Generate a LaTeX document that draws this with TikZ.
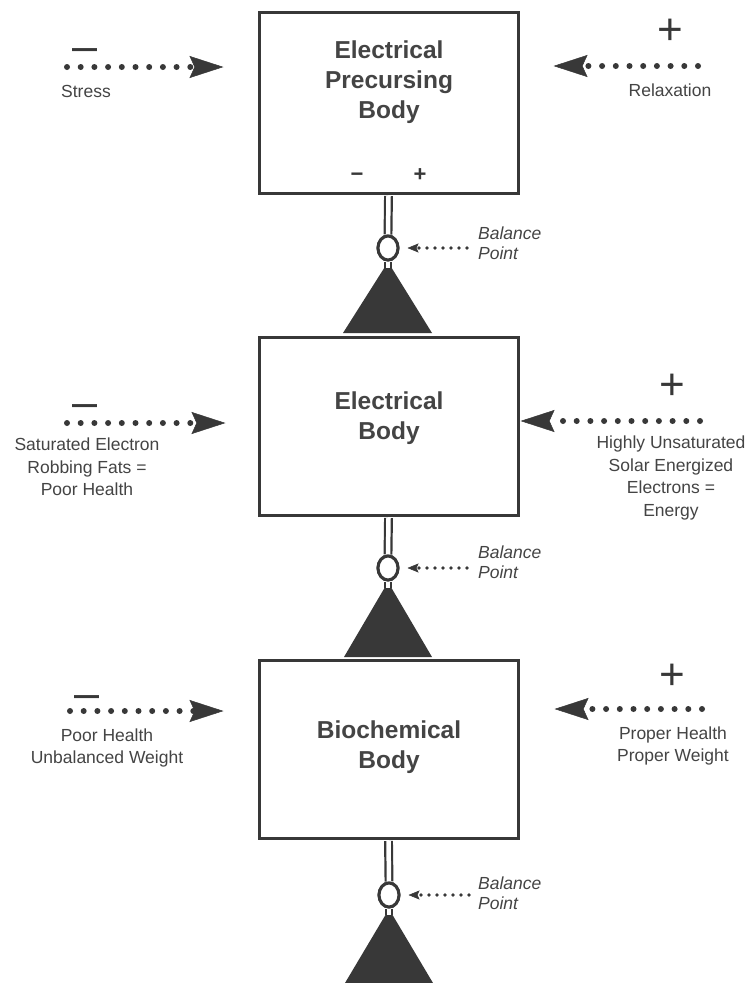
\documentclass[tikz,border=0pt]{standalone}
\usepackage{fontspec}
\setmainfont{Liberation Sans}
\usetikzlibrary{arrows.meta,shapes.geometric}
\definecolor{ink}{HTML}{383838}
\definecolor{txt}{HTML}{444444}
\begin{document}
\begin{tikzpicture}[x=1pt,y=-1pt,
  bodybox/.style={draw=ink, line width=3pt, fill=white, minimum width=259pt, inner sep=0pt},
  boxlabel/.style={font=\fontsize{24.5}{30}\selectfont\bfseries, text=txt, align=center, inner sep=0pt},
  side/.style={font=\fontsize{17.5}{22.5}\selectfont, text=txt, align=center, inner sep=0pt},
  balance/.style={font=\fontsize{17.5}{20.5}\selectfont\itshape, text=txt, align=left, inner sep=0pt, anchor=west},
  bigplus/.style={font=\fontsize{44}{44}\selectfont, text=ink, inner sep=0pt, anchor=base},
  bigminus/.style={font=\fontsize{45}{45}\selectfont, text=ink, inner sep=0pt, anchor=base},
  smallsign/.style={font=\fontsize{22}{22}\selectfont\bfseries, text=ink, inner sep=0pt, anchor=base},
  force/.style={draw=ink, line width=6pt, line cap=round, dash pattern=on 0pt off 13.7pt,
    -{Stealth[length=34pt,width=22pt,inset=5pt,line width=0.5pt]}},
  balarrow/.style={draw=ink, line width=3.6pt, line cap=round, dash pattern=on 0pt off 8pt,
    -{Stealth[length=11pt,width=9pt,inset=2pt,line width=0.5pt]}},
  stem/.style={draw=ink, line width=2.2pt, double=white, double distance=4.5pt},
  pivot/.style={ellipse, draw=ink, line width=3pt, fill=white, minimum width=20pt, minimum height=24pt, inner sep=0pt},
  fulcrum/.style={fill=ink}
]
\useasboundingbox[fill=white] (0,0) rectangle (749,983);

% ---------- pivots and fulcrum apexes ----------
\coordinate (a1) at (388,262);
\coordinate (a2) at (388,582);
\coordinate (a3) at (389,909);

\node[pivot] (c1) at (388,248) {};
\node[pivot] (c2) at (388,568) {};
\node[pivot] (c3) at (389,895) {};

% ---------- boxes ----------
\node[bodybox, minimum height=181pt] (b1) at (388.5,102.5) {};
\node[bodybox, minimum height=178pt] (b2) at (388.5,426) {};
\node[bodybox, minimum height=178pt] (b3) at (388.5,749) {};

\draw[stem] ([yshift=-1.5pt]b1.south) -- (c1.north);
\draw[stem] ([yshift=-1.5pt]b2.south) -- (c2.north);
\draw[stem] ([yshift=-1.5pt]b3.south) -- (c3.north);

% ---------- fulcrums ----------
\fill[fulcrum] (a1) -- (343,333) -- (432,333) -- cycle;
\fill[fulcrum] (a2) -- (344,657) -- (432,657) -- cycle;
\fill[fulcrum] (a3) -- (345,983) -- (433,983) -- cycle;
\draw[stem] (c1.south) -- ([yshift=-6pt]a1);
\draw[stem] (c2.south) -- ([yshift=-6pt]a2);
\draw[stem] (c3.south) -- ([yshift=-6pt]a3);
\node[pivot] at (c1) {};
\node[pivot] at (c2) {};
\node[pivot] at (c3) {};

% ---------- box labels ----------
\node[boxlabel] (t1) at (389,82) {Electrical\\Precursing\\Body};
\node[smallsign] (s1m) at (357,181) {−};
\node[smallsign] (s1p) at (420,181) {+};
\node[boxlabel] (t2) at (389,418) {Electrical\\Body};
\node[boxlabel] (t3) at (389,747) {Biochemical\\Body};

% ---------- balance points ----------
\node[balance] (bp1) at (478,243) {Balance\\Point};
\node[balance] (bp2) at (478,562) {Balance\\Point};
\node[balance] (bp3) at (478,893) {Balance\\Point};
\coordinate (bs1) at (467,248);
\coordinate (bs2) at (467,568);
\coordinate (bs3) at (469,895);
\draw[balarrow] (bs1) -- ([xshift=8pt]c1.east);
\draw[balarrow] (bs2) -- ([xshift=8pt]c2.east);
\draw[balarrow] (bs3) -- ([xshift=8pt]c3.east);

% ---------- left forces ----------
\node[bigminus] (m1) at (85,61.5) {–};
\coordinate (fl1) at (67,67);
\draw[force, shorten >=34pt] (fl1) -- (fl1 -| b1.west);
\node[side] (l1) at (86,91) {Stress};

\node[bigminus] (m2) at (85,417.5) {–};
\coordinate (fl2) at (67,423);
\draw[force, shorten >=32pt] (fl2) -- (fl2 -| b2.west);
\node[side] (l2) at (87,467) {Saturated Electron\\Robbing Fats =\\Poor Health};

\node[bigminus] (m3) at (87,708.5) {–};
\coordinate (fl3) at (70,711);
\draw[force, shorten >=34pt] (fl3) -- (fl3 -| b3.west);
\node[side] (l3) at (107,748) {Poor Health\\Unbalanced Weight};

% ---------- right forces ----------
\node[bigplus] (p1) at (670,44) {+};
\coordinate (fr1) at (698,66);
\draw[force, shorten >=34pt] (fr1) -- (fr1 -| b1.east);
\node[side] (r1) at (670,90) {Relaxation};

\node[bigplus] (p2) at (672,399) {+};
\coordinate (fr2) at (700,421);
\draw[force, shorten >=1pt] (fr2) -- (fr2 -| b2.east);
\node[side] (r2) at (671,478) {Highly Unsaturated\\Solar Energized\\Electrons =\\Energy};

\node[bigplus] (p3) at (672,689) {+};
\coordinate (fr3) at (702,709);
\draw[force, shorten >=35pt] (fr3) -- (fr3 -| b3.east);
\node[side] (r3) at (673,746) {Proper Health\\Proper Weight};
\end{tikzpicture}
\end{document}
